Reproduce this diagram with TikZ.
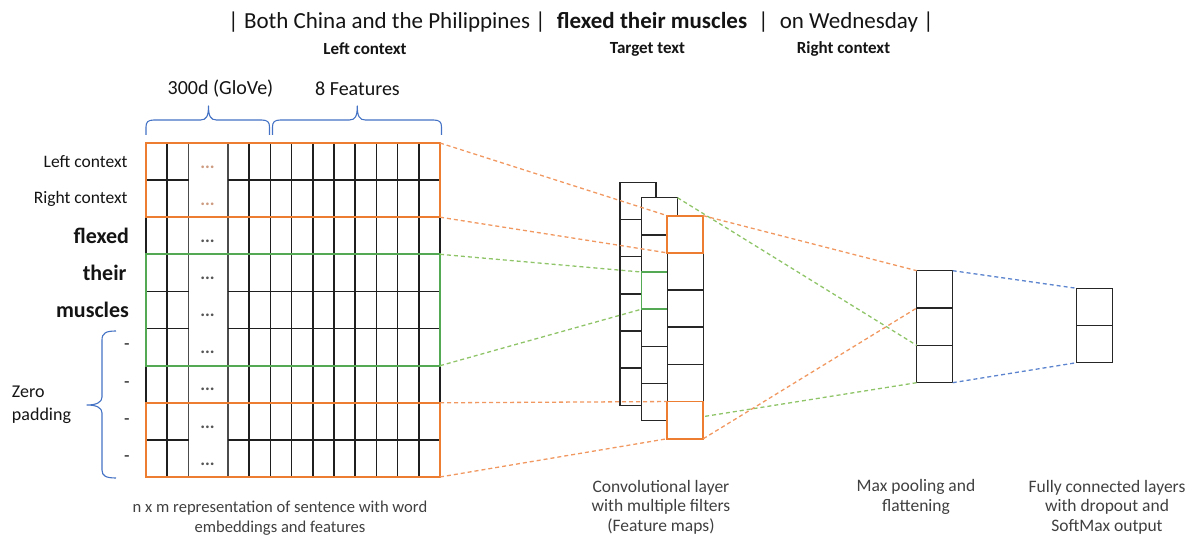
\documentclass[tikz,border=0pt]{standalone}
\usepackage{fontspec}
\setmainfont{Carlito}
\usetikzlibrary{calc}

\definecolor{orng}{RGB}{237,125,49}
\definecolor{orngdash}{RGB}{241,152,96}
\definecolor{grn}{RGB}{84,170,84}
\definecolor{grndash}{RGB}{143,196,104}
\definecolor{blu}{RGB}{68,114,196}
\definecolor{bludash}{RGB}{92,132,206}
\definecolor{ink}{RGB}{20,20,20}
\definecolor{soft}{RGB}{64,64,64}
\definecolor{dotgrey}{RGB}{85,85,85}
\definecolor{dotorng}{RGB}{205,155,128}

\newcommand{\fs}[2]{\fontsize{#1}{#2}\selectfont}
% horizontal curly brace opening downwards: left end, right end, tip
\newcommand{\topbrace}[3]{%
  \draw[curly] (#1,135) -- (#1,127) .. controls (#1,122) and ({#1+2},120) .. ({#1+8},120)
    -- ({#3-8},120) .. controls ({#3-2},120) and (#3,116) .. (#3,106)
    .. controls (#3,116) and ({#3+2},120) .. ({#3+8},120)
    -- ({#2-8},120) .. controls ({#2-2},120) and (#2,122) .. (#2,127) -- (#2,135);}

\begin{document}
\begin{tikzpicture}[x=1pt,y=-1pt,
  every node/.style={inner sep=0pt, outer sep=0pt, text=ink},
  gridln/.style={draw=black!88, line width=1.5pt},
  box/.style={draw=#1, line width=1.9pt, minimum width=294pt},
  cell/.style={draw=black!85, line width=1.5pt, fill=white, minimum width=36pt, minimum height=37.17pt},
  hicell/.style={cell, draw=#1, line width=1.9pt},
  odash/.style={draw=orngdash, line width=1.3pt, dash pattern=on 4pt off 3pt},
  gdash/.style={draw=grndash, line width=1.3pt, dash pattern=on 4pt off 3pt},
  bdash/.style={draw=bludash, line width=1.3pt, dash pattern=on 4pt off 3pt},
  curly/.style={draw=blu, line width=1.1pt, line join=round},
  rowlab/.style={anchor=east, font=\fs{17.5}{20}},
  wordlab/.style={anchor=east, font=\fs{22}{26}\bfseries},
  dots/.style={font=\fs{18}{20}\bfseries, text=#1},
  caption/.style={align=center, text=soft, font=\fs{17.5}{19.5}}
]
\useasboundingbox (0,0) rectangle (1195,537);

% ---------- sentence and its parts ----------
\node[font=\fs{23}{27}] (title) at (581,22)
  {| Both China and the Philippines |\hspace{11pt}\textbf{flexed their muscles}\hspace{11pt}|\hspace{11pt}on Wednesday |};
\node[font=\fs{17}{20}\bfseries] (lctx) at (365,49) {Left context};
\node[font=\fs{17}{20}\bfseries] (ttxt) at (647.5,49) {Target text};
\node[font=\fs{17}{20}\bfseries] (rctx) at (843.5,49) {Right context};

% ---------- column groups ----------
\node[font=\fs{20}{24}] (glove) at (220.5,89) {300d (GloVe)};
\node[font=\fs{20}{24}] (feat) at (357.5,89) {8 Features};
\topbrace{146}{269.5}{208.5}
\topbrace{272.5}{441.5}{357.3}

% ---------- n x m input matrix ----------
\node[draw=black!88, line width=1.5pt, minimum width=294pt, minimum height=334pt] (grid) at (293,310) {};
\foreach \x in {167,249.2,270.4,291.6,312.8,334,355.2,376.4,397.6,418.8}
  \draw[gridln] (\x,143) -- (\x,477);
\foreach \x in {188.7,228}
  \draw[gridln, draw=black!70] (\x,143) -- (\x,477);
\foreach \y in {180.1,217.2,254.3,291.4,328.6,365.7,402.8,439.9} {
  \draw[gridln] (146,\y) -- (188.7,\y);
  \draw[gridln] (228,\y) -- (440,\y);
}
\node[box=orng, minimum height=74.2pt] (ctx) at (293,180.1) {};
\node[box=grn, minimum height=111.4pt] (tgt) at (293,310) {};
\node[box=orng, minimum height=74.2pt] (pad) at (293,439.9) {};

\foreach \r [count=\i] in {161.5,198.6} \node[dots=dotorng] (do\i) at (207.5,\r+5.5) {...};
\foreach \r [count=\i] in {235.7,272.8,310,347.1,384.2,421.3,458.4} \node[dots=dotgrey] (dg\i) at (207.5,\r+5.5) {...};

% ---------- row labels ----------
\node[rowlab] (l1) at (127.5,162) {Left context};
\node[rowlab] (l2) at (127.5,198.6) {Right context};
\node[wordlab] (l3) at (129,235.7) {flexed};
\node[wordlab] (l4) at (126.5,272.8) {their};
\node[wordlab] (l5) at (129,310) {muscles};
\foreach \r [count=\i] in {347.1,384.2,421.3,458.4} \node[font=\fs{18}{20}] (z\i) at (127,\r) {-};
\draw[curly] (116,331) .. controls (106,331) and (102,333) .. (102,340) -- (102,397)
  .. controls (102,402) and (97,405) .. (87,405)
  .. controls (97,405) and (102,408) .. (102,413) -- (102,470)
  .. controls (102,476) and (106,478) .. (116,478);
\node[anchor=west, align=left, font=\fs{18}{23}] (zero) at (12,404.5) {Zero\\padding};

% ---------- convolutional feature maps ----------
\foreach \i in {1,...,6} \node[cell] (b\i) at (638,{182.3+37.17*(\i-0.5)}) {};
\foreach \i in {1,2,4,5,6} \node[cell] (m\i) at (659.5,{197.7+37.17*(\i-0.5)}) {};
\node[hicell=grn] (m3) at (659.5,{197.7+37.17*2.5}) {};

% ---------- max pooling and fully connected ----------
\foreach \i in {1,2,3} \node[cell, minimum height=37.33pt] (p\i) at (934.7,{270.7+37.33*(\i-0.5)}) {};
\foreach \i in {1,2} \node[cell, minimum height=37.2pt] (c\i) at (1094.5,{288.3+37.2*(\i-0.5)}) {};

% the green map feeds the last pooled cell
\draw[gdash] (m1.north east) -- (p3.north west);
\draw[gdash] (m6.south east) -- (p3.south west);

\foreach \i in {2,...,5} \node[cell] (f\i) at (685.3,{215.7+37.17*(\i-0.5)}) {};
\node[hicell=orng] (f1) at (685.3,{215.7+37.17*0.5}) {};
\node[hicell=orng] (f6) at (685.3,{215.7+37.17*5.5}) {};

% ---------- receptive fields ----------
\draw[odash] (ctx.north east) -- (f1.north west);
\draw[odash] (ctx.south east) -- (f1.south west);
\draw[gdash] (tgt.north east) -- (m3.north west);
\draw[gdash] (tgt.south east) -- (m3.south west);
\draw[odash] (pad.north east) -- (f6.north west);
\draw[odash] (pad.south east) -- (f6.south west);

% orange map feeds the first pooled cell
\draw[odash] (f1.north east) -- (p1.north west);
\draw[odash] (f6.south east) -- (p1.south west);

% pooled vector to dense layer
\draw[bdash] (p1.north east) -- (c1.north west);
\draw[bdash] (p3.south east) -- (c2.south west);

% ---------- captions ----------
\node[caption, font=\fs{16.6}{19.5}] (cap1) at (280,518) {n x m representation of sentence with word\\embeddings and features};
\node[caption] (cap2) at (661,507) {Convolutional layer\\with multiple filters\\(Feature maps)};
\node[caption] (cap3) at (916,497) {Max pooling and\\flattening};
\node[caption] (cap4) at (1107,507) {Fully connected layers\\with dropout and\\SoftMax output};
\end{tikzpicture}
\end{document}
